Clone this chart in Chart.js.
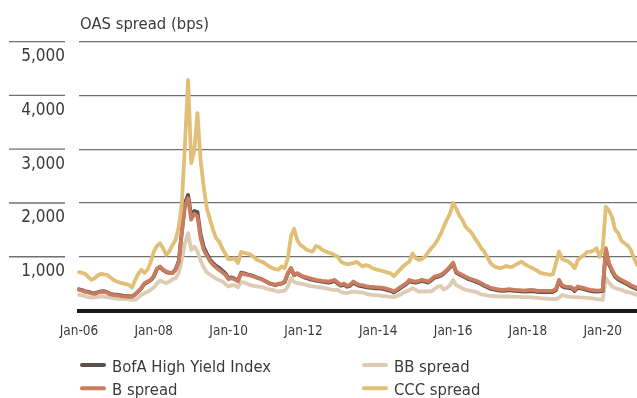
<!DOCTYPE html>
<html>
<head>
<meta charset="utf-8">
<script src="https://cdn.jsdelivr.net/npm/chart.js@4.4.1/dist/chart.umd.min.js"></script>
<style>
  html, body { margin: 0; padding: 0; background: #ffffff; }
  #wrap { position: relative; width: 637px; height: 398px; }
</style>
</head>
<body>
<div id="wrap"><canvas id="chart" width="637" height="398"></canvas></div>
<script>
// Monthly option-adjusted spreads (bps), Jan 2006 - Dec 2020
const monthNames = ['Jan','Feb','Mar','Apr','May','Jun','Jul','Aug','Sep','Oct','Nov','Dec'];
const months = [];
for (let yr = 2006; yr <= 2020; yr++) {
  for (const m of monthNames) months.push(m + '-' + String(yr).slice(2));
}
const tickLabels = ['Jan-06','Jan-08','Jan-10','Jan-12','Jan-14','Jan-16','Jan-18','Jan-20'];
const yTicks = [1000, 2000, 3000, 4000, 5000];
const seriesNames = ['BofA High Yield Index', 'B spread', 'BB spread', 'CCC spread'];

const hyIndex = [
  395, 380, 355, 345, 330, 320, 340, 355, 360, 340, 310, 300,
  295, 285, 275, 268, 265, 262, 300, 350, 415, 495, 530, 565,
  630, 770, 810, 750, 715, 700, 700, 770, 920, 1480, 2000, 2150,
  1750, 1850, 1830, 1420, 1180, 1060, 950, 880, 830, 790, 740, 690,
  600, 615, 590, 555, 705, 690, 672, 660, 640, 615, 595, 570,
  540, 505, 490, 470, 492, 500, 530, 690, 785, 655, 685, 650,
  620, 600, 585, 570, 555, 545, 535, 528, 520, 530, 548, 500,
  462, 482, 442, 462, 520, 482, 458, 450, 435, 425, 420, 412,
  410, 405, 395, 380, 365, 335, 372, 412, 452, 490, 548, 528,
  520, 532, 550, 535, 520, 560, 610, 625, 645, 685, 740, 800,
  875, 705, 672, 642, 612, 582, 562, 542, 520, 492, 460, 432,
  402, 392, 378, 372, 366, 372, 378, 372, 366, 360, 356, 350,
  358, 362, 356, 345, 344, 344, 344, 344, 344, 380, 545, 450,
  425, 420, 412, 364, 425, 410, 395, 380, 364, 358, 352, 356,
  365, 1130, 860, 730, 625, 575, 545, 515, 485, 448, 425, 395
];

const bSpread = [
  384, 370, 345, 335, 320, 310, 330, 345, 353, 330, 300, 291,
  285, 275, 265, 260, 260, 258, 300, 353, 420, 508, 540, 570,
  640, 780, 818, 760, 725, 700, 694, 760, 900, 1450, 1950, 2090,
  1690, 1800, 1750, 1350, 1130, 1020, 920, 850, 800, 755, 710, 660,
  580, 600, 575, 540, 690, 675, 662, 650, 631, 610, 590, 569,
  540, 508, 495, 477, 500, 508, 539, 700, 790, 662, 693, 660,
  631, 615, 600, 585, 569, 560, 551, 545, 539, 550, 569, 520,
  480, 500, 460, 480, 539, 500, 477, 470, 455, 446, 440, 433,
  430, 425, 415, 400, 384, 353, 390, 430, 470, 508, 569, 545,
  539, 550, 569, 555, 539, 580, 631, 645, 662, 700, 755, 820,
  891, 724, 690, 660, 631, 600, 580, 560, 539, 510, 477, 450,
  420, 410, 396, 390, 384, 390, 396, 390, 384, 380, 375, 371,
  380, 384, 378, 365, 365, 365, 365, 365, 365, 400, 569, 470,
  446, 440, 433, 384, 446, 430, 415, 400, 384, 378, 371, 375,
  384, 1158, 879, 755, 650, 600, 569, 540, 508, 470, 446, 415
];

const bbSpread = [
  291, 280, 265, 250, 242, 245, 255, 262, 260, 250, 240, 230,
  222, 215, 212, 210, 205, 200, 198, 240, 291, 320, 350, 384,
  430, 500, 558, 530, 508, 540, 580, 601, 700, 950, 1250, 1438,
  1128, 1190, 1100, 930, 800, 710, 670, 630, 590, 565, 540, 490,
  446, 470, 470, 430, 530, 520, 495, 470, 458, 450, 440, 433,
  410, 395, 384, 365, 353, 360, 371, 446, 600, 530, 508, 500,
  490, 470, 458, 450, 440, 433, 425, 415, 400, 390, 384, 384,
  345, 334, 325, 340, 353, 345, 338, 334, 315, 300, 291, 285,
  280, 272, 268, 262, 255, 248, 270, 291, 330, 353, 380, 415,
  385, 353, 355, 353, 360, 355, 400, 440, 458, 390, 420, 470,
  569, 470, 446, 410, 384, 375, 360, 353, 330, 300, 291, 280,
  272, 270, 265, 262, 260, 260, 260, 258, 256, 255, 250, 248,
  248, 245, 240, 235, 230, 223, 220, 216, 212, 210, 240, 291,
  270, 260, 255, 250, 248, 245, 240, 235, 229, 220, 210, 205,
  198, 600, 520, 450, 415, 400, 384, 360, 340, 330, 310, 291
];

const cccSpread = [
  713, 700, 680, 620, 570, 600, 650, 680, 670, 663, 620, 570,
  545, 520, 505, 490, 475, 430, 560, 680, 756, 700, 760, 900,
  1097, 1200, 1252, 1150, 1035, 1100, 1220, 1314, 1560, 2000, 3100, 4290,
  2740, 2990, 3670, 2800, 2300, 1900, 1700, 1500, 1343, 1281, 1150, 1050,
  950, 960, 970, 880, 1090, 1070, 1060, 1040, 1000, 945, 920, 900,
  860, 820, 790, 770, 760, 820, 790, 970, 1380, 1520, 1310, 1220,
  1180, 1130, 1110, 1100, 1200, 1180, 1130, 1100, 1080, 1060, 1030, 1000,
  910, 880, 860, 870, 880, 905, 860, 820, 845, 830, 790, 770,
  755, 740, 725, 705, 690, 640, 700, 760, 820, 870, 910, 1060,
  975, 940, 960, 1000, 1080, 1158, 1220, 1310, 1420, 1560, 1690, 1800,
  2000, 1900, 1770, 1680, 1560, 1500, 1440, 1340, 1260, 1160, 1096, 990,
  880, 830, 800, 790, 800, 830, 810, 810, 850, 880, 910, 860,
  830, 805, 770, 740, 700, 685, 675, 665, 670, 880, 1096, 960,
  930, 910, 860, 786, 940, 990, 1030, 1090, 1096, 1110, 1158, 1000,
  1150, 1930, 1860, 1740, 1500, 1440, 1300, 1250, 1210, 1130, 980, 850
];

const COLORS = {
  hy: '#5b514b',
  b: '#c97c5f',
  bb: '#ddcbb4',
  ccc: '#e2bf77'
};
const GRID = '#707070';
const TEXT = '#3a3a3a';
const NARROW = "'DejaVu Sans Condensed', 'DejaVu Sans', sans-serif";

// Title, short gridline stubs beside the value labels, and the two-column legend
const decor = {
  id: 'decor',
  beforeDatasetsDraw(chart) {
    const { ctx } = chart;
    const y = chart.scales.y;
    ctx.save();
    ctx.strokeStyle = GRID;
    ctx.lineWidth = 1.3;
    yTicks.forEach(v => {
      const py = y.getPixelForValue(v);
      ctx.beginPath();
      ctx.moveTo(9, py);
      ctx.lineTo(65, py);
      ctx.stroke();
    });
    ctx.restore();
  },
  afterDraw(chart) {
    const { ctx } = chart;
    ctx.save();
    ctx.fillStyle = TEXT;
    ctx.textBaseline = 'alphabetic';
    ctx.textAlign = 'left';
    ctx.font = '16.5px ' + NARROW;
    ctx.fillText('OAS spread (bps)', 80, 29);

    const items = [
      { ds: 0, x: 80, y: 365 },
      { ds: 2, x: 362, y: 365 },
      { ds: 1, x: 80, y: 388.3 },
      { ds: 3, x: 362, y: 388.3 }
    ];
    ctx.font = '16.5px ' + NARROW;
    items.forEach(it => {
      const ds = chart.data.datasets[it.ds];
      ctx.strokeStyle = ds.borderColor;
      ctx.lineWidth = 4;
      ctx.lineCap = 'round';
      ctx.beginPath();
      ctx.moveTo(it.x + 2, it.y);
      ctx.lineTo(it.x + 24, it.y);
      ctx.stroke();
      ctx.fillStyle = TEXT;
      ctx.fillText(ds.label, it.x + 32, it.y + 6.5);
    });
    ctx.restore();
  }
};

const mkSet = (label, data, color, order) => ({
  label, data,
  borderColor: color,
  backgroundColor: color,
  borderWidth: 3.8,
  pointRadius: 0,
  pointHoverRadius: 0,
  tension: 0,
  borderJoinStyle: 'round',
  borderCapStyle: 'round',
  fill: false,
  order
});

new Chart(document.getElementById('chart'), {
  type: 'line',
  data: {
    labels: months,
    datasets: [
      mkSet(seriesNames[0], hyIndex, COLORS.hy, 2),
      mkSet(seriesNames[1], bSpread, COLORS.b, 1),
      mkSet(seriesNames[2], bbSpread, COLORS.bb, 3),
      mkSet(seriesNames[3], cccSpread, COLORS.ccc, 0)
    ]
  },
  options: {
    responsive: false,
    animation: false,
    devicePixelRatio: 1,
    layout: { padding: { left: 0, right: 0, top: 41.7, bottom: 57.5 } },
    plugins: {
      legend: { display: false },
      title: { display: false },
      tooltip: { enabled: false }
    },
    scales: {
      x: {
        type: 'category',
        offset: false,
        // hidden grid; the tick length only pushes the labels down
        grid: { display: false, drawTicks: true, tickLength: 12.5 },
        border: { display: true, color: '#1c1a19', width: 4 },
        afterFit: s => { s.height = 30; },
        ticks: {
          autoSkip: false,
          maxRotation: 0,
          minRotation: 0,
          padding: 0,
          color: TEXT,
          font: { family: NARROW, size: 13.5 },
          callback: function (v) {
            const lab = this.getLabelForValue(v);
            return tickLabels.includes(lab) ? lab : '';
          }
        }
      },
      y: {
        min: 0,
        max: 5000,
        afterFit: s => { s.width = 79; },
        grid: { color: GRID, lineWidth: 1.3, drawTicks: false },
        border: { display: false },
        ticks: {
          stepSize: 1000,
          padding: 14,
          labelOffset: 15,
          color: TEXT,
          font: { family: NARROW, size: 17 },
          callback: v => (v === 0 ? '' : v.toLocaleString('en-US'))
        }
      }
    }
  },
  plugins: [decor]
});
</script>
</body>
</html>
